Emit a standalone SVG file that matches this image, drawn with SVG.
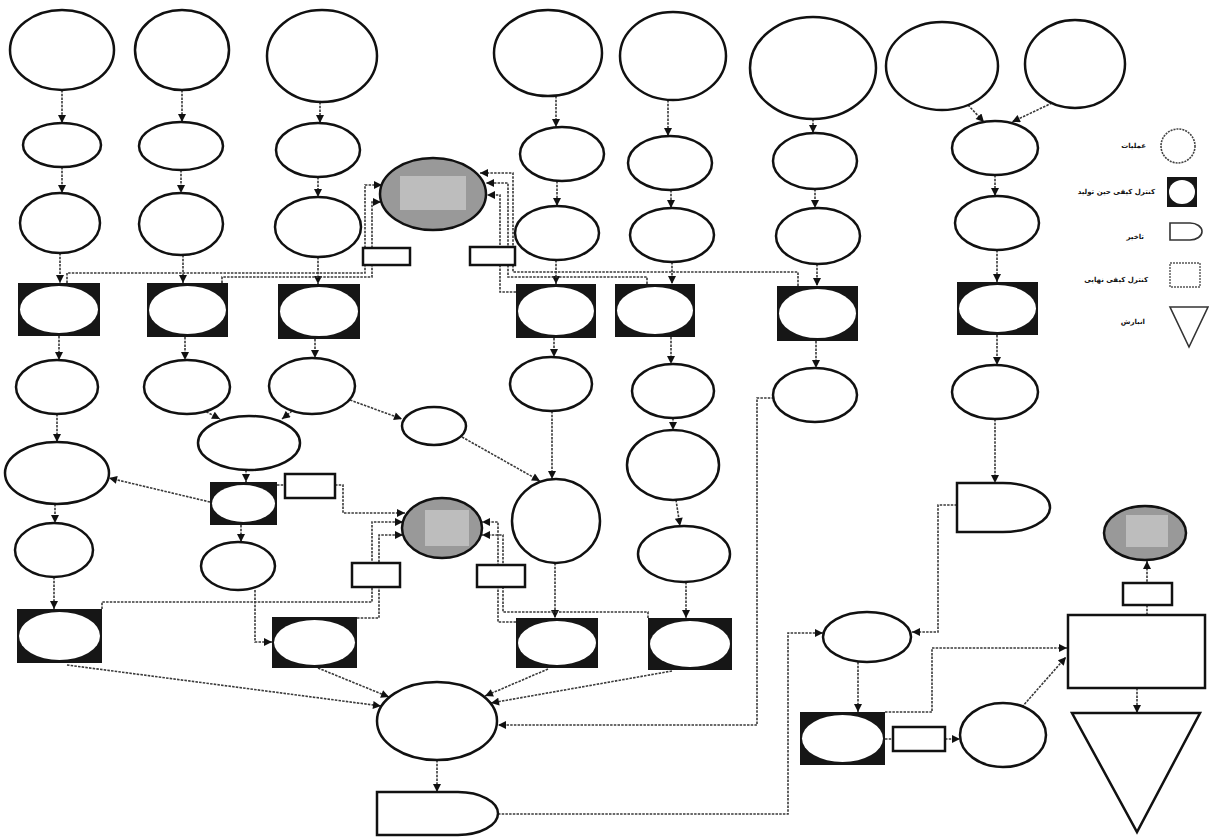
<svg xmlns="http://www.w3.org/2000/svg" width="1209" height="838" viewBox="0 0 1209 838">
<style>
.e{fill:#fff;stroke:#111;stroke-width:2.5}
.db rect{fill:#161616}
.db ellipse{fill:#fff}
.g ellipse{fill:#999;stroke:#111;stroke-width:2.5}
.g rect{fill:#c9c9c9;opacity:.75}
.lb{fill:#fff;stroke:#111;stroke-width:2.5}
.c path{fill:none;stroke:#3a3a3a;stroke-width:1.6;stroke-dasharray:2.5 1.2}
.c .a{marker-end:url(#ah)}
.sh{fill:#fff;stroke:#111;stroke-width:2.5}
.lg{font-family:"DejaVu Sans",sans-serif;font-size:7px;font-weight:bold;fill:#111;text-anchor:end}
</style>
<defs>
<marker id="ah" viewBox="0 0 10 10" refX="10" refY="5" markerWidth="9" markerHeight="8" markerUnits="userSpaceOnUse" orient="auto"><path d="M0,0 L10,5 L0,10 z" fill="#111"/></marker>
</defs>
<rect width="1209" height="838" fill="#fff"/>

<g class="c" id="connectors">
<path class="a" d="M62,90 V123"/>
<path class="a" d="M62,167 V193"/>
<path class="a" d="M60,253 V283"/>
<path class="a" d="M59,336 V360"/>
<path class="a" d="M57,414 V442"/>
<path class="a" d="M55,504 V523"/>
<path class="a" d="M54,577 V609"/>
<path class="a" d="M182,90 V122"/>
<path class="a" d="M181,170 V193"/>
<path class="a" d="M183,255 V283"/>
<path class="a" d="M185,337 V360"/>
<path class="a" d="M320,102 V123"/>
<path class="a" d="M318,177 V197"/>
<path class="a" d="M318,257 V284"/>
<path class="a" d="M315,339 V358"/>
<path class="a" d="M556,96 V127"/>
<path class="a" d="M557,181 V206"/>
<path class="a" d="M556,260 V284"/>
<path class="a" d="M554,338 V357"/>
<path class="a" d="M552,411 V479"/>
<path class="a" d="M555,563 V618"/>
<path class="a" d="M668,100 V136"/>
<path class="a" d="M671,190 V208"/>
<path class="a" d="M672,262 V284"/>
<path class="a" d="M671,337 V364"/>
<path class="a" d="M673,418 V430"/>
<path class="a" d="M676,500 L680,526"/>
<path class="a" d="M686,582 V618"/>
<path class="a" d="M813,119 V133"/>
<path class="a" d="M815,189 V208"/>
<path class="a" d="M817,264 V286"/>
<path class="a" d="M816,341 V368"/>
<path class="a" d="M968,105 L984,122"/>
<path class="a" d="M1052,103 L1012,122"/>
<path class="a" d="M995,175 V196"/>
<path class="a" d="M997,250 V282"/>
<path class="a" d="M997,335 V365"/>
<path class="a" d="M995,419 V483"/>
<path class="a" d="M203,410 L220,419"/>
<path class="a" d="M292,411 L282,419"/>
<path class="a" d="M350,400 L402,419"/>
<path class="a" d="M462,437 L540,481"/>
<path class="a" d="M246,470 V482"/>
<path class="a" d="M210,502 L109,478"/>
<path class="a" d="M241,525 V542"/>
<path d="M277,485 H285"/>
<path class="a" d="M335,485 H343 V513 H405"/>
<path class="a" d="M255,590 V642 H272"/>
<path class="a" d="M102,609 V602 H372 V522 H403"/>
<path class="a" d="M357,618 H379 V535 H403"/>
<path class="a" d="M648,618 V612 H503 V535 H482"/>
<path class="a" d="M516,622 H498 V522 H482"/>
<path class="a" d="M67,283 V273 H365 V185 H382"/>
<path class="a" d="M222,283 V277 H372 V202 H381"/>
<path class="a" d="M798,286 V272 H513 V173 H480"/>
<path class="a" d="M647,284 V277 H508 V183 H486"/>
<path class="a" d="M516,292 H500 V195 H487"/>
<path class="a" d="M67,665 L381,706"/>
<path class="a" d="M318,668 L389,697"/>
<path class="a" d="M548,669 L485,696"/>
<path class="a" d="M672,671 L491,703"/>
<path class="a" d="M774,398 H757 V725 H498"/>
<path class="a" d="M437,760 V792"/>
<path class="a" d="M498,814 H788 V633 H823"/>
<path class="a" d="M957,505 H938 V632 H912"/>
<path class="a" d="M858,662 V712"/>
<path class="a" d="M885,712 H932 V648 H1067"/>
<path d="M885,739 H893"/>
<path class="a" d="M945,739 H960"/>
<path class="a" d="M1022,707 L1066,657"/>
<path class="a" d="M1147,615 V561"/>
<path class="a" d="M1137,688 V713"/>
</g>

<g id="c1e1"><ellipse class="e" cx="62" cy="50" rx="52" ry="40"/></g>
<g id="c1e2"><ellipse class="e" cx="62" cy="145" rx="39" ry="22"/></g>
<g id="c1e3"><ellipse class="e" cx="60" cy="223" rx="40" ry="30"/></g>
<g id="c1e4"><ellipse class="e" cx="57" cy="387" rx="41" ry="27"/></g>
<g id="c1e5"><ellipse class="e" cx="57" cy="473" rx="52" ry="31"/></g>
<g id="c1e6"><ellipse class="e" cx="54" cy="550" rx="39" ry="27"/></g>
<g id="c2e1"><ellipse class="e" cx="182" cy="50" rx="47" ry="40"/></g>
<g id="c2e2"><ellipse class="e" cx="181" cy="146" rx="42" ry="24"/></g>
<g id="c2e3"><ellipse class="e" cx="181" cy="224" rx="42" ry="31"/></g>
<g id="c2e4"><ellipse class="e" cx="187" cy="387" rx="43" ry="27"/></g>
<g id="c3e1"><ellipse class="e" cx="322" cy="56" rx="55" ry="46"/></g>
<g id="c3e2"><ellipse class="e" cx="318" cy="150" rx="42" ry="27"/></g>
<g id="c3e3"><ellipse class="e" cx="318" cy="227" rx="43" ry="30"/></g>
<g id="c3e4"><ellipse class="e" cx="312" cy="386" rx="43" ry="28"/></g>
<g id="m1"><ellipse class="e" cx="249" cy="443" rx="51" ry="27"/></g>
<g id="m2"><ellipse class="e" cx="238" cy="566" rx="37" ry="24"/></g>
<g id="s1"><ellipse class="e" cx="434" cy="426" rx="32" ry="19"/></g>
<g id="c4e1"><ellipse class="e" cx="548" cy="53" rx="54" ry="43"/></g>
<g id="c4e2"><ellipse class="e" cx="562" cy="154" rx="42" ry="27"/></g>
<g id="c4e3"><ellipse class="e" cx="557" cy="233" rx="42" ry="27"/></g>
<g id="c4e4"><ellipse class="e" cx="551" cy="384" rx="41" ry="27"/></g>
<g id="c4c"><ellipse class="e" cx="556" cy="521" rx="44" ry="42"/></g>
<g id="c5e1"><ellipse class="e" cx="673" cy="56" rx="53" ry="44"/></g>
<g id="c5e2"><ellipse class="e" cx="670" cy="163" rx="42" ry="27"/></g>
<g id="c5e3"><ellipse class="e" cx="672" cy="235" rx="42" ry="27"/></g>
<g id="c5e4"><ellipse class="e" cx="673" cy="391" rx="41" ry="27"/></g>
<g id="c5e5"><ellipse class="e" cx="673" cy="465" rx="46" ry="35"/></g>
<g id="c5e6"><ellipse class="e" cx="684" cy="554" rx="46" ry="28"/></g>
<g id="c6e1"><ellipse class="e" cx="813" cy="68" rx="63" ry="51"/></g>
<g id="c6e2"><ellipse class="e" cx="815" cy="161" rx="42" ry="28"/></g>
<g id="c6e3"><ellipse class="e" cx="818" cy="236" rx="42" ry="28"/></g>
<g id="c6e4"><ellipse class="e" cx="815" cy="395" rx="42" ry="27"/></g>
<g id="r1a"><ellipse class="e" cx="942" cy="66" rx="56" ry="44"/></g>
<g id="r1b"><ellipse class="e" cx="1075" cy="64" rx="50" ry="44"/></g>
<g id="r2"><ellipse class="e" cx="995" cy="148" rx="43" ry="27"/></g>
<g id="r3"><ellipse class="e" cx="997" cy="223" rx="42" ry="27"/></g>
<g id="r4"><ellipse class="e" cx="995" cy="392" rx="43" ry="27"/></g>
<g id="b1"><ellipse class="e" cx="867" cy="637" rx="44" ry="25"/></g>
<g id="b2"><ellipse class="e" cx="1003" cy="735" rx="43" ry="32"/></g>
<g id="bc"><ellipse class="e" cx="437" cy="721" rx="60" ry="39"/></g>

<g id="c1b1" class="db"><rect x="18" y="283" width="82" height="53"/><ellipse cx="59" cy="309.5" rx="39" ry="23.5"/></g>
<g id="c2b1" class="db"><rect x="147" y="283" width="81" height="54"/><ellipse cx="187.5" cy="310" rx="38.5" ry="24"/></g>
<g id="c3b1" class="db"><rect x="278" y="284" width="82" height="55"/><ellipse cx="319" cy="311.5" rx="39" ry="24.5"/></g>
<g id="c4b1" class="db"><rect x="516" y="284" width="80" height="54"/><ellipse cx="556" cy="311" rx="38" ry="24"/></g>
<g id="c5b1" class="db"><rect x="615" y="284" width="80" height="53"/><ellipse cx="655" cy="310.5" rx="38" ry="23.5"/></g>
<g id="c6b1" class="db"><rect x="777" y="286" width="81" height="55"/><ellipse cx="817.5" cy="313.5" rx="38.5" ry="24.5"/></g>
<g id="rb1" class="db"><rect x="957" y="282" width="81" height="53"/><ellipse cx="997.5" cy="308.5" rx="38.5" ry="23.5"/></g>
<g id="mb" class="db"><rect x="210" y="482" width="67" height="43"/><ellipse cx="243.5" cy="503.5" rx="31.5" ry="18.5"/></g>
<g id="c1b2" class="db"><rect x="17" y="609" width="85" height="54"/><ellipse cx="59.5" cy="636" rx="40.5" ry="24"/></g>
<g id="mb2" class="db"><rect x="272" y="617" width="85" height="51"/><ellipse cx="314.5" cy="642.5" rx="40.5" ry="22.5"/></g>
<g id="c4b2" class="db"><rect x="516" y="618" width="82" height="50"/><ellipse cx="557" cy="643" rx="39" ry="22"/></g>
<g id="c5b2" class="db"><rect x="648" y="618" width="84" height="52"/><ellipse cx="690" cy="644" rx="40" ry="23"/></g>
<g id="bb" class="db"><rect x="800" y="712" width="85" height="53"/><ellipse cx="842.5" cy="738.5" rx="40.5" ry="23.5"/></g>

<g id="g1" class="g"><ellipse cx="433" cy="194" rx="53" ry="36"/><rect x="400" y="176" width="66" height="34"/></g>
<g id="g2" class="g"><ellipse cx="442" cy="528" rx="40" ry="30"/><rect x="425" y="510" width="44" height="36"/></g>
<g id="g3" class="g"><ellipse cx="1145" cy="533" rx="41" ry="27"/><rect x="1126" y="515" width="42" height="32"/></g>

<g id="L1"><rect class="lb" x="363" y="248" width="47" height="17"/></g>
<g id="L2"><rect class="lb" x="470" y="247" width="45" height="18"/></g>
<g id="L3"><rect class="lb" x="285" y="474" width="50" height="24"/></g>
<g id="L4"><rect class="lb" x="352" y="563" width="48" height="24"/></g>
<g id="L5"><rect class="lb" x="477" y="565" width="48" height="22"/></g>
<g id="L6"><rect class="lb" x="1123" y="583" width="49" height="22"/></g>
<g id="L7"><rect class="lb" x="893" y="727" width="52" height="24"/></g>

<g id="D1"><path class="sh" d="M957,483 H1003 A47,24.5 0 0 1 1003,532 H957 Z"/></g>
<g id="D2"><path class="sh" d="M377,792 H458 A40,21.5 0 0 1 458,835 H377 Z"/></g>
<g id="finalRect"><rect class="sh" x="1068" y="615" width="137" height="73" stroke-width="2"/></g>
<g id="storage"><polygon class="sh" points="1072,713 1200,713 1137,832" stroke-width="2"/></g>

<g id="legend">
<circle cx="1178" cy="146" r="17" fill="#fff" stroke="#444" stroke-width="1.6" stroke-dasharray="2 1"/>
<rect x="1167" y="177" width="30" height="30" fill="#161616"/>
<ellipse cx="1182" cy="192" rx="13" ry="12" fill="#fff"/>
<path d="M1170,223 H1190 A12,8.5 0 0 1 1190,240 H1170 Z" fill="#fff" stroke="#333" stroke-width="1.6"/>
<rect x="1170" y="263" width="30" height="24" fill="#fff" stroke="#555" stroke-width="1.4" stroke-dasharray="2 1"/>
<polygon points="1170,307 1208,307 1189,347" fill="#fff" stroke="#333" stroke-width="1.6"/>
<text class="lg" x="1146" y="148">عملیات</text>
<text class="lg" x="1155" y="194">کنترل کیفی حین تولید</text>
<text class="lg" x="1144" y="239">تاخیر</text>
<text class="lg" x="1148" y="282">کنترل کیفی نهایی</text>
<text class="lg" x="1145" y="324">انبارش</text>
</g>
</svg>
